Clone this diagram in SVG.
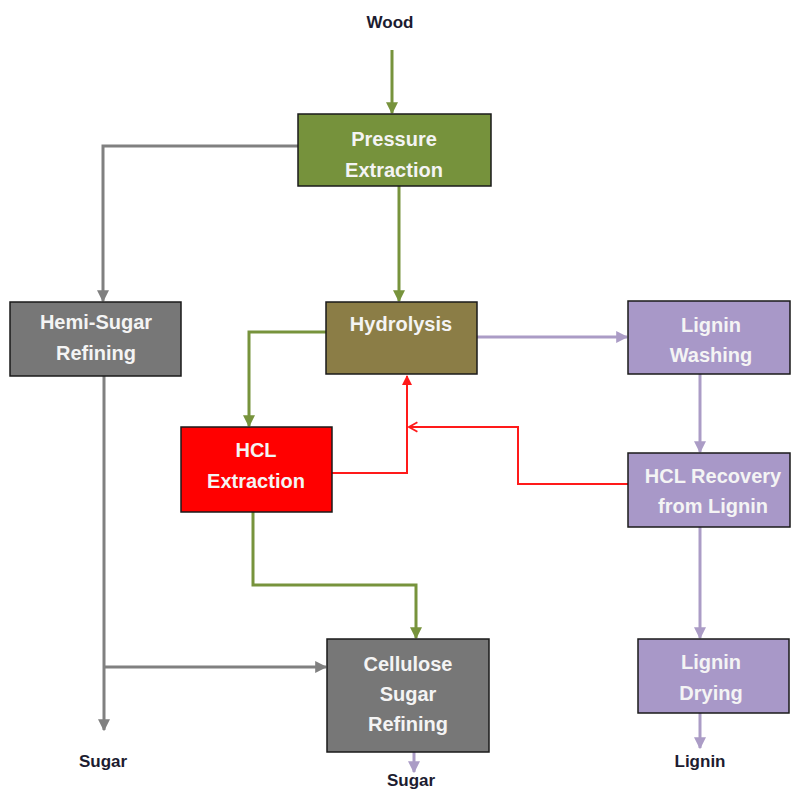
<svg xmlns="http://www.w3.org/2000/svg" width="795" height="789" viewBox="0 0 795 789">
<defs>
<style>
.box{stroke:#1a1a1a;stroke-width:1.5}
.t{font-family:"Liberation Sans",Arial,sans-serif;font-weight:bold;font-size:20px;fill:#f4f4f4;text-anchor:middle}
.lbl{font-family:"Liberation Sans",Arial,sans-serif;font-weight:bold;font-size:17px;fill:#1c1c30;text-anchor:middle}
.c{fill:none;stroke-width:3}
.g{stroke:#77933c}
.gr{stroke:#808080}
.lv{stroke:#ab9cc6}
.r{stroke:#ff1a1a;stroke-width:2}
</style>
<marker id="ag" viewBox="0 0 10 10" refX="9" refY="5" markerWidth="4" markerHeight="4" orient="auto" markerUnits="strokeWidth"><path d="M0,0L10,5L0,10z" fill="#77933c"/></marker>
<marker id="agr" viewBox="0 0 10 10" refX="9" refY="5" markerWidth="4" markerHeight="4" orient="auto" markerUnits="strokeWidth"><path d="M0,0L10,5L0,10z" fill="#808080"/></marker>
<marker id="alv" viewBox="0 0 10 10" refX="9" refY="5" markerWidth="4" markerHeight="4" orient="auto" markerUnits="strokeWidth"><path d="M0,0L10,5L0,10z" fill="#ab9cc6"/></marker>
<marker id="ar" viewBox="0 0 10 10" refX="9" refY="5" markerWidth="5" markerHeight="5" orient="auto" markerUnits="strokeWidth"><path d="M0,0L10,5L0,10z" fill="#ff1a1a"/></marker>
<marker id="arc" viewBox="0 0 10 10" refX="9" refY="5" markerWidth="6" markerHeight="6" orient="auto" markerUnits="strokeWidth"><path d="M2,1L9,5L2,9" fill="none" stroke="#ff1a1a" stroke-width="1.5"/></marker>
</defs>
<rect width="795" height="789" fill="#ffffff"/>
<g id="connectors">
<path class="c g" d="M392,50V113" marker-end="url(#ag)"/>
<path class="c gr" d="M298,146H103V301" marker-end="url(#agr)"/>
<path class="c g" d="M399,186V301" marker-end="url(#ag)"/>
<path class="c lv" d="M477,337H627" marker-end="url(#alv)"/>
<path class="c g" d="M326,332H249V426" marker-end="url(#ag)"/>
<path class="c r" d="M332,473H407V376" marker-end="url(#ar)"/>
<path class="c r" d="M628,484H518V427H409" marker-end="url(#arc)"/>
<path class="c lv" d="M700,374V452" marker-end="url(#alv)"/>
<path class="c lv" d="M700,527V638" marker-end="url(#alv)"/>
<path class="c lv" d="M700,713V748" marker-end="url(#alv)"/>
<path class="c gr" d="M104,376V730" marker-end="url(#agr)"/>
<path class="c gr" d="M104,667H326" marker-end="url(#agr)"/>
<path class="c g" d="M253,512V585H416V638" marker-end="url(#ag)"/>
<path class="c lv" d="M414,752V772" marker-end="url(#alv)"/>
</g>
<g id="wood"><text class="lbl" x="390" y="28">Wood</text></g>
<g id="pressure-extraction">
<rect class="box" x="298" y="114" width="193" height="72" fill="#76923c"/>
<text class="t" x="394" y="146">Pressure</text>
<text class="t" x="394" y="177">Extraction</text>
</g>
<g id="hemi-sugar-refining">
<rect class="box" x="10" y="302" width="171" height="74" fill="#777777"/>
<text class="t" x="96" y="329">Hemi-Sugar</text>
<text class="t" x="96" y="360">Refining</text>
</g>
<g id="hydrolysis">
<rect class="box" x="326" y="302" width="151" height="72" fill="#8b7d46"/>
<text class="t" x="401" y="331">Hydrolysis</text>
</g>
<g id="hcl-extraction">
<rect class="box" x="181" y="427" width="151" height="85" fill="#ff0000"/>
<text class="t" x="256" y="457">HCL</text>
<text class="t" x="256" y="488">Extraction</text>
</g>
<g id="lignin-washing">
<rect class="box" x="628" y="301" width="162" height="73" fill="#a898c8"/>
<text class="t" x="711" y="332">Lignin</text>
<text class="t" x="711" y="362">Washing</text>
</g>
<g id="hcl-recovery">
<rect class="box" x="628" y="453" width="162" height="74" fill="#a898c8"/>
<text class="t" x="713" y="483">HCL Recovery</text>
<text class="t" x="713" y="513">from Lignin</text>
</g>
<g id="lignin-drying">
<rect class="box" x="638" y="639" width="151" height="74" fill="#a898c8"/>
<text class="t" x="711" y="669">Lignin</text>
<text class="t" x="711" y="700">Drying</text>
</g>
<g id="cellulose-sugar-refining">
<rect class="box" x="327" y="639" width="162" height="113" fill="#777777"/>
<text class="t" x="408" y="671">Cellulose</text>
<text class="t" x="408" y="701">Sugar</text>
<text class="t" x="408" y="731">Refining</text>
</g>
<g id="sugar-left"><text class="lbl" x="103" y="767">Sugar</text></g>
<g id="sugar-bottom"><text class="lbl" x="411" y="786">Sugar</text></g>
<g id="lignin-out"><text class="lbl" x="700" y="767">Lignin</text></g>
</svg>
